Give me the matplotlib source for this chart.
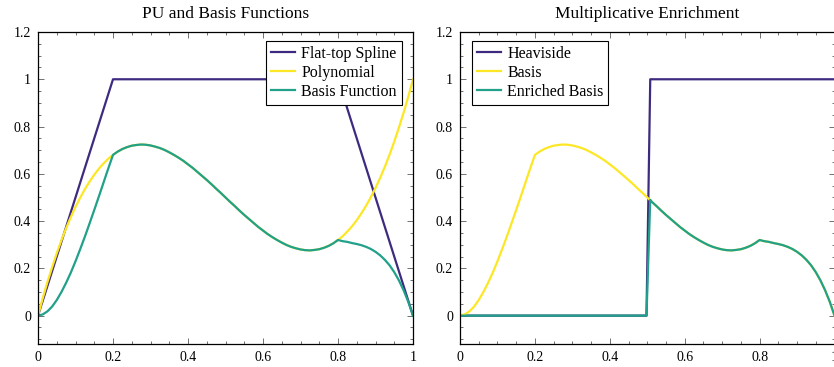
import matplotlib
matplotlib.use("Agg")
import matplotlib.pyplot as plt
from matplotlib.ticker import MultipleLocator, FuncFormatter

plt.rcParams['font.family'] = ['Liberation Serif', 'DejaVu Serif']

x_grid = [i * 0.0125 for i in range(81)]
spline_x = [0, 0.2, 0.8, 1]
spline_y = [0, 1, 1, 0]
poly_y = [0, 0.073, 0.141, 0.204, 0.264, 0.319, 0.370, 0.417, 0.460, 0.499,
          0.535, 0.567, 0.596, 0.622, 0.644, 0.664, 0.680, 0.694, 0.705, 0.713,
          0.719, 0.722, 0.724, 0.723, 0.720, 0.715, 0.709, 0.701, 0.691, 0.680,
          0.668, 0.655, 0.640, 0.625, 0.608, 0.591, 0.574, 0.556, 0.537, 0.519,
          0.500, 0.481, 0.463, 0.444, 0.426, 0.409, 0.392, 0.375, 0.360, 0.345,
          0.332, 0.320, 0.309, 0.299, 0.291, 0.285, 0.280, 0.277, 0.276, 0.278,
          0.281, 0.287, 0.295, 0.306, 0.320, 0.336, 0.356, 0.378, 0.404, 0.433,
          0.465, 0.501, 0.540, 0.583, 0.630, 0.681, 0.736, 0.796, 0.859, 0.927,
          1.000]
basis_y = [0, 0.005, 0.018, 0.038, 0.066, 0.100, 0.139, 0.182, 0.230, 0.281,
           0.334, 0.390, 0.447, 0.505, 0.564, 0.623, 0.680, 0.694, 0.705, 0.713,
           0.719, 0.722, 0.724, 0.723, 0.720, 0.715, 0.709, 0.701, 0.691, 0.680,
           0.668, 0.655, 0.640, 0.625, 0.608, 0.591, 0.574, 0.556, 0.537, 0.519,
           0.500, 0.481, 0.463, 0.444, 0.426, 0.409, 0.392, 0.375, 0.360, 0.345,
           0.332, 0.320, 0.309, 0.299, 0.291, 0.285, 0.280, 0.277, 0.276, 0.278,
           0.281, 0.287, 0.295, 0.306, 0.320, 0.315, 0.312, 0.307, 0.303, 0.298,
           0.291, 0.282, 0.270, 0.255, 0.236, 0.213, 0.184, 0.149, 0.107, 0.058,
           0]
heavi_x = [0, 0.498, 0.508, 1]
heavi_y = [0, 0, 1, 1]
jump_x = [0, 0.498, 0.508]
jump_y = [0, 0, 0.490]

PURPLE = '#3e2b7f'
YELLOW = '#fde725'
GREEN = '#21a08a'
LW = 1.6

# enriched basis: zero before the jump, then follows the basis
enr_x = jump_x + [x for x in x_grid if x > 0.51]
enr_y = jump_y + [b for x, b in zip(x_grid, basis_y) if x > 0.51]

fig = plt.figure(figsize=(8.34, 3.67), dpi=100)
ax1 = fig.add_axes([38 / 834, 23 / 367, 375 / 834, 312 / 367])
ax2 = fig.add_axes([460 / 834, 23 / 367, 374.5 / 834, 312 / 367])

ax1.plot(spline_x, spline_y, color=PURPLE, lw=LW, label='Flat-top Spline')
ax1.plot(x_grid, poly_y, color=YELLOW, lw=LW, label='Polynomial')
ax1.plot(x_grid, basis_y, color=GREEN, lw=LW, label='Basis Function')
ax1.set_title('PU and Basis Functions', fontsize=12.5, pad=10)

ax2.plot(heavi_x, heavi_y, color=PURPLE, lw=LW, label='Heaviside')
ax2.plot(x_grid, basis_y, color=YELLOW, lw=LW, label='Basis')
ax2.plot(enr_x, enr_y, color=GREEN, lw=LW, label='Enriched Basis')
ax2.set_title('Multiplicative Enrichment', fontsize=12.5, pad=10)

fmt = FuncFormatter(lambda v, p: '%g' % round(v, 2))
for ax, loc in ((ax1, 'upper right'), (ax2, 'upper left')):
    ax.set_xlim(0, 1)
    ax.set_ylim(-0.12, 1.2)
    ax.xaxis.set_major_locator(MultipleLocator(0.2))
    ax.xaxis.set_minor_locator(MultipleLocator(0.05))
    ax.yaxis.set_major_locator(MultipleLocator(0.2))
    ax.yaxis.set_minor_locator(MultipleLocator(0.05))
    ax.xaxis.set_major_formatter(fmt)
    ax.yaxis.set_major_formatter(fmt)
    ax.tick_params(which='both', direction='in', top=True, right=True,
                   color='0.35', width=0.6, labelsize=10)
    ax.tick_params(which='major', length=4, pad=5)
    ax.tick_params(which='minor', length=2.5)
    for s in ax.spines.values():
        s.set_linewidth(0.9)
    leg = ax.legend(loc=loc, fontsize=11.5, fancybox=False, framealpha=1,
                    edgecolor='black', handlelength=1.5, labelspacing=0.2,
                    borderpad=0.3, handletextpad=0.4, borderaxespad=0,
                    bbox_to_anchor=(0.97, 0.972) if loc == 'upper right' else (0.032, 0.972))
    leg.get_frame().set_linewidth(0.8)

fig.savefig('out.png', dpi=100)
